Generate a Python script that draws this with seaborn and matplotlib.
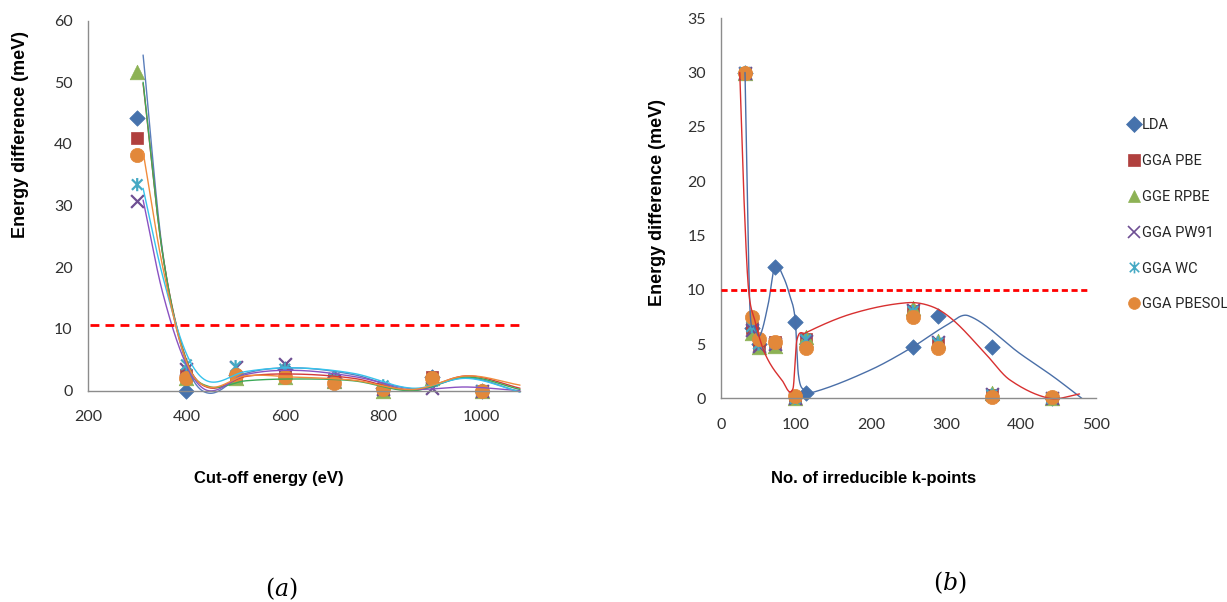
import numpy as np
import matplotlib
matplotlib.use("Agg")
import matplotlib.pyplot as plt
from matplotlib.path import Path
from matplotlib.lines import Line2D
import seaborn as sns

# ---------------- (a) convergence versus cut-off energy ----------------
cutoff_ev = [300, 400, 500, 600, 700, 800, 900, 1000]
cut_lda = [44.2, 0.0, 2.5, 3.5, 2.0, 0.5, 2.3, 0.0]
cut_pbe = [41.0, 2.5, 2.3, 2.8, 1.7, 0.3, 2.3, 0.0]
cut_rpbe = [51.6, 2.0, 2.0, 2.3, 1.5, 0.0, 2.0, 0.0]
cut_pw91 = [30.7, 3.5, 3.9, 4.4, 1.5, 0.3, 0.5, 0.0]
cut_wc = [33.4, 4.2, 3.9, 3.5, 2.0, 0.8, 1.5, 0.0]
cut_pbesol = [38.2, 2.0, 2.5, 2.3, 1.2, 0.3, 2.0, 0.0]

# trend series drawn as smoothed lines
cut_trend_x = [312, 352, 400, 445, 520, 620, 740, 860, 970, 1078]
cut_trend_lda = [54.4, 22.3, 4.4, -0.4, 2.8, 3.7, 2.6, 0.1, 2.1, -0.2]
cut_trend_pbe = [49.8, 22.0, 5.0, 0.5, 2.3, 2.7, 2.0, 0.1, 2.4, 0.4]
cut_trend_rpbe = [50.0, 22.0, 4.8, 0.7, 1.6, 1.9, 1.6, 0.0, 2.2, 0.2]
cut_trend_pw91 = [30.9, 15.8, 4.2, 0.0, 2.6, 3.3, 2.3, 0.3, 0.6, 0.0]
cut_trend_wc = [32.8, 18.5, 6.0, 1.5, 3.1, 3.7, 2.8, 0.4, 2.0, -0.2]
cut_trend_pbesol = [38.7, 20.0, 4.7, 0.6, 2.4, 2.2, 1.7, 0.2, 2.4, 0.9]
cut_threshold = 10.7
cut_threshold_span = [204, 1075]

# ---------------- (b) convergence versus irreducible k-points ----------------
kpoints = [32, 41, 50, 72, 99, 113, 256, 289, 361, 441]
kpt_lda = [30.0, 6.5, 5.0, 12.1, 7.0, 0.5, 4.7, 7.6, 4.7, 0.0]
kpt_pbe = [30.0, 6.5, 5.0, 5.2, 0.0, 5.5, 8.0, 5.0, 0.3, 0.0]
kpt_rpbe = [30.0, 6.0, 4.7, 4.8, 0.0, 5.6, 8.3, 5.3, 0.5, 0.0]
kpt_pw91 = [30.0, 6.3, 4.8, 5.0, 0.0, 5.3, 8.1, 5.2, 0.4, 0.0]
kpt_wc = [30.0, 6.6, 5.0, 5.1, 0.0, 5.4, 8.0, 5.1, 0.3, 0.0]
kpt_pbesol = [30.0, 7.5, 5.5, 5.2, 0.2, 4.6, 7.5, 4.6, 0.1, 0.1]

kpt_trend_lda_x = [32, 35, 38.7, 44.4, 52, 63, 72, 83, 92, 99, 103, 110, 125, 199, 255, 300, 330, 399, 443, 481]
kpt_trend_lda_y = [30, 19, 8.1, 6.6, 5.8, 8.7, 12.2, 11.2, 9.4, 7.2, 2.3, 0.8, 0.6, 2.6, 4.7, 6.7, 7.6, 4.1, 2.0, 0.0]
kpt_trend_pbe_x = [25, 30, 36.4, 45, 58.7, 81, 96, 101, 112, 175, 248, 283, 312, 354, 385, 438, 478]
kpt_trend_pbe_y = [30, 19.5, 10.3, 7.2, 4.1, 1.7, 0.9, 5.3, 6.0, 7.8, 8.8, 8.4, 7.05, 4.0, 1.7, 0.0, 0.4]
kpt_threshold = 10.0
kpt_threshold_span = [0, 492]

functionals = ["LDA", "GGA PBE", "GGE RPBE", "GGA PW91", "GGA WC", "GGA PBESOL"]
marker_colors = ["#4672AC", "#B0403E", "#8DB255", "#6E4F93", "#45A9C4", "#E2883A"]
line_colors = ["#5A7EBB", "#D23A3A", "#3CAA58", "#8A52C2", "#36C3EC", "#F08C3C"]

# six-armed asterisk marker (cross plus vertical bar)
star_path = Path(
    [(-0.8, -0.8), (0.8, 0.8), (-0.8, 0.8), (0.8, -0.8), (0, -1), (0, 1)],
    [Path.MOVETO, Path.LINETO, Path.MOVETO, Path.LINETO, Path.MOVETO, Path.LINETO],
)
marker_shapes = ["D", "s", "^", "x", star_path, "o"]
marker_sizes = [62, 85, 110, 85, 90, 105]


def smooth(xs, ys, n=80):
    """Cubic Hermite curve through the given knots (Catmull-Rom tangents)."""
    xs = np.asarray(xs, float)
    ys = np.asarray(ys, float)
    m = np.empty_like(ys)
    m[1:-1] = (ys[2:] - ys[:-2]) / (xs[2:] - xs[:-2])
    m[0] = (ys[1] - ys[0]) / (xs[1] - xs[0])
    m[-1] = (ys[-1] - ys[-2]) / (xs[-1] - xs[-2])
    px, py = [], []
    for i in range(len(xs) - 1):
        h = xs[i + 1] - xs[i]
        t = np.linspace(0, 1, n, endpoint=(i == len(xs) - 2))
        h00 = 2 * t**3 - 3 * t**2 + 1
        h10 = t**3 - 2 * t**2 + t
        h01 = -2 * t**3 + 3 * t**2
        h11 = t**3 - t**2
        px.append(xs[i] + h * t)
        py.append(h00 * ys[i] + h10 * h * m[i] + h01 * ys[i + 1] + h11 * h * m[i + 1])
    return np.concatenate(px), np.concatenate(py)


sns.set_theme(style="white")
plt.rcParams["font.family"] = ["Lato", "DejaVu Sans"]
plt.rcParams["mathtext.fontset"] = "dejavuserif"

W, H = 1227, 602
fig = plt.figure(figsize=(W / 100, H / 100), dpi=100)
fig.patch.set_facecolor("white")


def px_axes(x0, x1, y_top, y_bot):
    return fig.add_axes([x0 / W, 1 - y_bot / H, (x1 - x0) / W, (y_bot - y_top) / H])


ax_a = px_axes(88, 520, 20.5, 390.7)
ax_b = px_axes(721, 1096, 18.2, 398.3)


def draw_markers(ax, xs, series):
    for vals, shape, size, col in zip(series, marker_shapes, marker_sizes, marker_colors):
        if shape == "x":
            sns.scatterplot(x=xs, y=vals, ax=ax, marker=shape, s=size, color=col,
                            linewidth=1.6, clip_on=False, zorder=1)
        elif isinstance(shape, Path):
            sns.scatterplot(x=xs, y=vals, ax=ax, marker=shape, s=size, color=col,
                            facecolor="none", edgecolor=col, linewidth=1.6,
                            clip_on=False, zorder=1)
        else:
            sns.scatterplot(x=xs, y=vals, ax=ax, marker=shape, s=size, color=col,
                            edgecolor=col, linewidth=0.5, clip_on=False, zorder=1)


def style_axes(ax):
    for side in ("top", "right"):
        ax.spines[side].set_visible(False)
    for side in ("left", "bottom"):
        ax.spines[side].set_color("#8C8C8C")
        ax.spines[side].set_linewidth(1.0)
    ax.tick_params(axis="both", direction="out", length=5, width=1, color="#8C8C8C",
                   labelsize=11.5, labelcolor="#303030")
    ax.tick_params(axis="x", pad=9)
    ax.tick_params(axis="y", pad=6)
    ax.set_xlabel("")
    ax.set_ylabel("")
    ax.set_facecolor("none")


# ---- panel (a)
cut_series = [cut_lda, cut_pbe, cut_rpbe, cut_pw91, cut_wc, cut_pbesol]
cut_trends = [cut_trend_lda, cut_trend_pbe, cut_trend_rpbe, cut_trend_pw91,
              cut_trend_wc, cut_trend_pbesol]
draw_markers(ax_a, cutoff_ev, cut_series)
for vals, col in zip(cut_trends, line_colors):
    sx, sy = smooth(cut_trend_x, vals)
    sns.lineplot(x=sx, y=sy, ax=ax_a, sort=False, estimator=None, color=col,
                 linewidth=1.0, clip_on=False, zorder=2)
sns.lineplot(x=cut_threshold_span, y=[cut_threshold] * 2, ax=ax_a, color="#FF0000",
             linewidth=2.0, estimator=None, zorder=3, clip_on=False)
ax_a.lines[-1].set_dashes((3.2, 2.2))
ax_a.set_xlim(200, 1078)
ax_a.set_ylim(0, 60)
ax_a.set_xticks([200, 400, 600, 800, 1000])
ax_a.set_yticks(range(0, 61, 10))
style_axes(ax_a)

# ---- panel (b)
kpt_series = [kpt_lda, kpt_pbe, kpt_rpbe, kpt_pw91, kpt_wc, kpt_pbesol]
draw_markers(ax_b, kpoints, kpt_series)
for tx, ty, col in [(kpt_trend_lda_x, kpt_trend_lda_y, "#4A6FA8"),
                    (kpt_trend_pbe_x, kpt_trend_pbe_y, "#D83030")]:
    sx, sy = smooth(tx, ty)
    sns.lineplot(x=sx, y=sy, ax=ax_b, sort=False, estimator=None, color=col,
                 linewidth=1.0, clip_on=False, zorder=2)
sns.lineplot(x=kpt_threshold_span, y=[kpt_threshold] * 2, ax=ax_b, color="#FF0000",
             linewidth=2.0, estimator=None, zorder=3, clip_on=False)
ax_b.lines[-1].set_dashes((2.2, 1.3))
ax_b.set_xlim(0, 500)
ax_b.set_ylim(0, 35)
ax_b.set_xticks(range(0, 501, 100))
ax_b.set_yticks(range(0, 36, 5))
style_axes(ax_b)

# legend for panel (b)
handles = []
for shape, col in zip(marker_shapes, marker_colors):
    unfilled = shape == "x" or isinstance(shape, Path)
    handles.append(Line2D([], [], linestyle="none", marker=shape, markersize=8.5,
                          color=col, markerfacecolor="none" if unfilled else col,
                          markeredgecolor=col, markeredgewidth=1.2 if unfilled else 0.5))
fig.legend(handles, functionals, loc="upper left",
           bbox_to_anchor=(1129 / W, 1 - 118 / H), frameon=False,
           handlelength=0.75, handletextpad=0.12, labelspacing=1.5, borderpad=0,
           borderaxespad=0, prop={"family": ["Roboto", "DejaVu Sans"], "size": 10.5})

# axis titles
title_font = {"family": ["Liberation Sans", "DejaVu Sans"], "weight": "bold", "size": 13}
xlabel_font = {"family": ["Liberation Sans", "DejaVu Sans"], "weight": "bold", "size": 12}
fig.text(21 / W, 1 - 134 / H, "Energy difference (meV)", rotation=90,
         ha="center", va="center", color="black", **title_font)
fig.text(658 / W, 1 - 203 / H, "Energy difference (meV)", rotation=90,
         ha="center", va="center", color="black", **title_font)
fig.text(269 / W, 1 - 478 / H, "Cut-off energy (eV)", ha="center", va="center",
         color="black", **xlabel_font)
fig.text(874 / W, 1 - 478 / H, "No. of irreducible k-points", ha="center", va="center",
         color="black", **xlabel_font)

# panel captions
fig.text(281 / W, 1 - 589 / H, r"$(a)$", ha="center", va="center", fontsize=17, color="black")
fig.text(950 / W, 1 - 583 / H, r"$(b)$", ha="center", va="center", fontsize=17, color="black")

fig.savefig("out.png", dpi=100, facecolor="white")
